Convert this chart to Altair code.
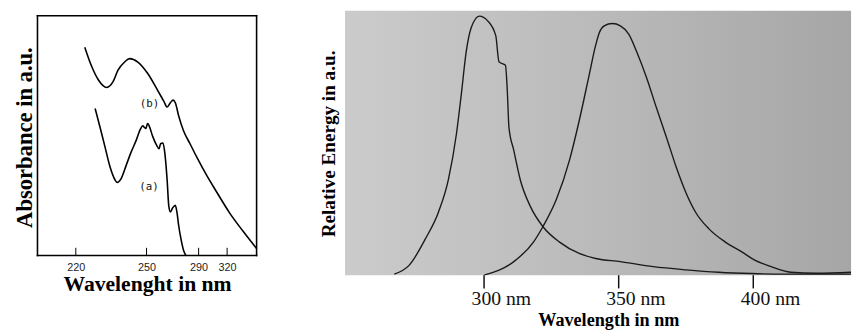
import altair as alt
import pandas as pd

# ---------------- Left panel: absorbance spectra (a) and (b) ----------------
b_wl = [223.8, 226.8, 229.6, 233.1, 235.8, 237.9, 240.7, 242.8, 246.3, 250.8, 258.3, 263.3, 265.8,
        268.3, 270.4, 272.1, 274.7, 278.4, 283.4, 288.5, 298.2, 308.5, 322.3, 335.7, 350.0]
b_abs = [0.869, 0.787, 0.732, 0.701, 0.725, 0.773, 0.807, 0.821, 0.807, 0.760, 0.691, 0.643, 0.619,
         0.637, 0.648, 0.637, 0.582, 0.520, 0.466, 0.411, 0.336, 0.268, 0.179, 0.104, 0.029]

a_wl = [228.2, 230.3, 232.4, 234.5, 236.6, 237.5, 239.3, 241.4, 243.5, 245.6, 247.4, 248.4, 249.1,
        249.7, 250.8, 252.0, 254.5, 257.8, 259.6, 260.8, 262.6, 264.1, 265.8, 267.1, 268.3, 270.1,
        272.1, 273.4, 274.7, 276.4, 278.4, 280.2]
a_abs = [0.613, 0.534, 0.452, 0.370, 0.316, 0.305, 0.322, 0.377, 0.432, 0.480, 0.527, 0.541, 0.534,
         0.530, 0.550, 0.541, 0.500, 0.459, 0.445, 0.466, 0.469, 0.425, 0.316, 0.206, 0.182, 0.199,
         0.209, 0.179, 0.124, 0.070, 0.022, 0.0]

left_ticks = [220, 250, 290, 320]
curve_labels = ["(a)", "(b)"]
curve_label_wl = [251.8, 252.3]
curve_label_abs = [0.287, 0.631]

# frame edges of the left panel (in data units)
frame_x0 = [204, 204, 204, 350]
frame_x1 = [350, 350, 204, 350]
frame_y0 = [0.0, 1.0, 0.0, 0.0]
frame_y1 = [0.0, 1.0, 1.0, 1.0]

# ---------------- Right panel: excitation / emission spectra ----------------
exc_wl = [266.8, 272.3, 278.4, 283.2, 286.9, 289.9, 291.7, 293.5, 295.4, 298.4, 301.5, 304.5, 305.7,
          308.1, 308.8, 309.4, 311.2, 313.6, 317.3, 322.2, 328.2, 335.5, 341.6, 350.8, 363.0, 375.2,
          387.3, 399.5, 411.7, 436.5]
exc_val = [0.004, 0.037, 0.138, 0.238, 0.361, 0.535, 0.684, 0.844, 0.937, 0.980, 0.962, 0.906, 0.807,
           0.794, 0.695, 0.559, 0.472, 0.361, 0.261, 0.181, 0.125, 0.082, 0.063, 0.051, 0.032, 0.020,
           0.011, 0.006, 0.004, 0.004]

emi_wl = [300.3, 311.2, 318.5, 322.2, 327.0, 331.9, 335.5, 339.2, 341.6, 343.0, 344.8, 347.8, 350.8,
          353.9, 356.9, 360.6, 364.2, 367.9, 371.5, 375.2, 378.8, 383.7, 389.8, 395.9, 400.7, 406.8,
          414.1, 423.8, 436.5]
emi_val = [0.001, 0.051, 0.125, 0.187, 0.286, 0.435, 0.584, 0.757, 0.869, 0.918, 0.943, 0.952, 0.943,
           0.912, 0.844, 0.745, 0.633, 0.522, 0.410, 0.311, 0.237, 0.175, 0.125, 0.088, 0.057, 0.032,
           0.011, 0.007, 0.011]

right_ticks = [300, 350, 400]
right_tick_labels = ["300 nm", "350 nm", "400 nm"]

SERIF = "Liberation Serif"

# ---------------- Left chart ----------------
LW, LH = 223, 269
left_xscale = alt.Scale(domain=[204, 220, 250, 290, 320, 350], range=[0, 39, 111, 164, 193, 223],
                        nice=False, zero=False)
left_yscale = alt.Scale(domain=[0, 1], range=[249, 5], nice=False, zero=False)

left_xaxis = alt.Axis(values=left_ticks, title="Wavelenght in nm", ticks=False, tickSize=0,
                      domain=False, grid=False, offset=-20, labelFont="Liberation Sans",
                      labelFontSize=11, labelColor="#222", labelPadding=15,
                      labelBaseline="alphabetic", labelFlush=False, labelOverlap=False,
                      titleFont=SERIF, titleFontSize=22, titleFontWeight="bold", titleColor="black",
                      titleY=36, titleBaseline="alphabetic")
left_yaxis = alt.Axis(title="Absorbance in a.u.", labels=False, ticks=False, domain=False, grid=False,
                      titleFont=SERIF, titleFontSize=23, titleFontWeight="bold", titleColor="black",
                      titleX=-6, titleY=128.5, titleBaseline="alphabetic", titleAngle=-90)


def lx(field):
    return alt.X(field, type="quantitative", scale=left_xscale, axis=left_xaxis)


def ly(field):
    return alt.Y(field, type="quantitative", scale=left_yscale, axis=left_yaxis)


abs_df = pd.DataFrame({
    "wl": a_wl + b_wl,
    "absorb": a_abs + b_abs,
    "series": ["a"] * len(a_wl) + ["b"] * len(b_wl),
})

left_lines = alt.Chart(abs_df).mark_line(color="black", strokeWidth=1.6, interpolate="monotone").encode(
    x=lx("wl"), y=ly("absorb"), detail="series:N")

frame_df = pd.DataFrame({"fx0": frame_x0, "fx1": frame_x1, "fy0": frame_y0, "fy1": frame_y1})
frame = alt.Chart(frame_df).mark_rule(color="black", strokeWidth=1.6, strokeCap="square").encode(
    x=lx("fx0"), x2="fx1", y=ly("fy0"), y2="fy1")

tick_df = pd.DataFrame({"wl": left_ticks, "t0": [0.0] * len(left_ticks), "t1": [0.032] * len(left_ticks)})
inner_ticks = alt.Chart(tick_df).mark_rule(color="black", strokeWidth=1).encode(
    x=lx("wl"), y=ly("t0"), y2="t1")

lab_df = pd.DataFrame({"wl": curve_label_wl, "absorb": curve_label_abs, "label": curve_labels})
curve_text = alt.Chart(lab_df).mark_text(font="DejaVu Sans Mono", fontSize=11, color="#111",
                                         baseline="middle", align="center").encode(
    x=lx("wl"), y=ly("absorb"), text="label:N")

left = alt.layer(inner_ticks, left_lines, curve_text, frame).properties(width=LW, height=LH)

# ---------------- Right chart ----------------
RW, RH = 515, 269
right_xscale = alt.Scale(domain=[248.5, 436.5], nice=False, zero=False)
right_yscale = alt.Scale(domain=[0, 1], nice=False, zero=False)

right_xaxis = alt.Axis(values=right_ticks, labels=False, title="Wavelength in nm",
                       ticks=True, tickSize=28, tickWidth=1.5, tickColor="#111", domain=False,
                       grid=False, offset=-15, titleFont=SERIF, titleFontSize=18.5, titleFontWeight="bold",
                       titleColor="black", titleY=66, titleX=268, titleBaseline="alphabetic")
right_yaxis = alt.Axis(title="Relative Energy in a.u.", labels=False, ticks=False, domain=False,
                       grid=False, titleFont=SERIF, titleFontSize=19.5, titleFontWeight="bold",
                       titleColor="black", titleX=-11, titleY=135, titleBaseline="alphabetic",
                       titleAngle=-90)


def rx(field):
    return alt.X(field, type="quantitative", scale=right_xscale, axis=right_xaxis)


def ry(field):
    return alt.Y(field, type="quantitative", scale=right_yscale, axis=right_yaxis)


spec_df = pd.DataFrame({
    "wl": exc_wl + emi_wl,
    "energy": exc_val + emi_val,
    "series": ["excitation"] * len(exc_wl) + ["emission"] * len(emi_wl),
})

bg = alt.Chart(pd.DataFrame({"k": [0]})).mark_rect(
    fill=alt.LinearGradient(gradient="linear", x1=0, x2=1, y1=0, y2=0,
                            stops=[alt.GradientStop(color="#cbcbcb", offset=0),
                                   alt.GradientStop(color="#bcbcbc", offset=0.45),
                                   alt.GradientStop(color="#a6a6a6", offset=1)])
).encode(x=alt.value(0), x2=alt.value(RW), y=alt.value(0), y2=alt.value(RH))

right_lines = alt.Chart(spec_df).mark_line(color="#1a1a1a", strokeWidth=1.4, interpolate="monotone").encode(
    x=rx("wl"), y=ry("energy"), detail="series:N")

rlab_df = pd.DataFrame({"wl": right_ticks, "label": right_tick_labels})
right_labels = alt.Chart(rlab_df).mark_text(font=SERIF, fontSize=20, color="#111", align="center",
                                            baseline="alphabetic", dx=18).encode(
    x=rx("wl"), y=alt.value(299), text="label:N")

right = alt.layer(bg, right_lines, right_labels).properties(width=RW, height=RH)

chart = alt.hconcat(left, right, spacing=59).properties(
    padding={"left": 6, "top": 0, "right": 0, "bottom": 0},
    background="white",
).configure_view(strokeWidth=0, stroke="transparent")

chart.save("out.html", embed_options={"renderer": "svg", "actions": False})
